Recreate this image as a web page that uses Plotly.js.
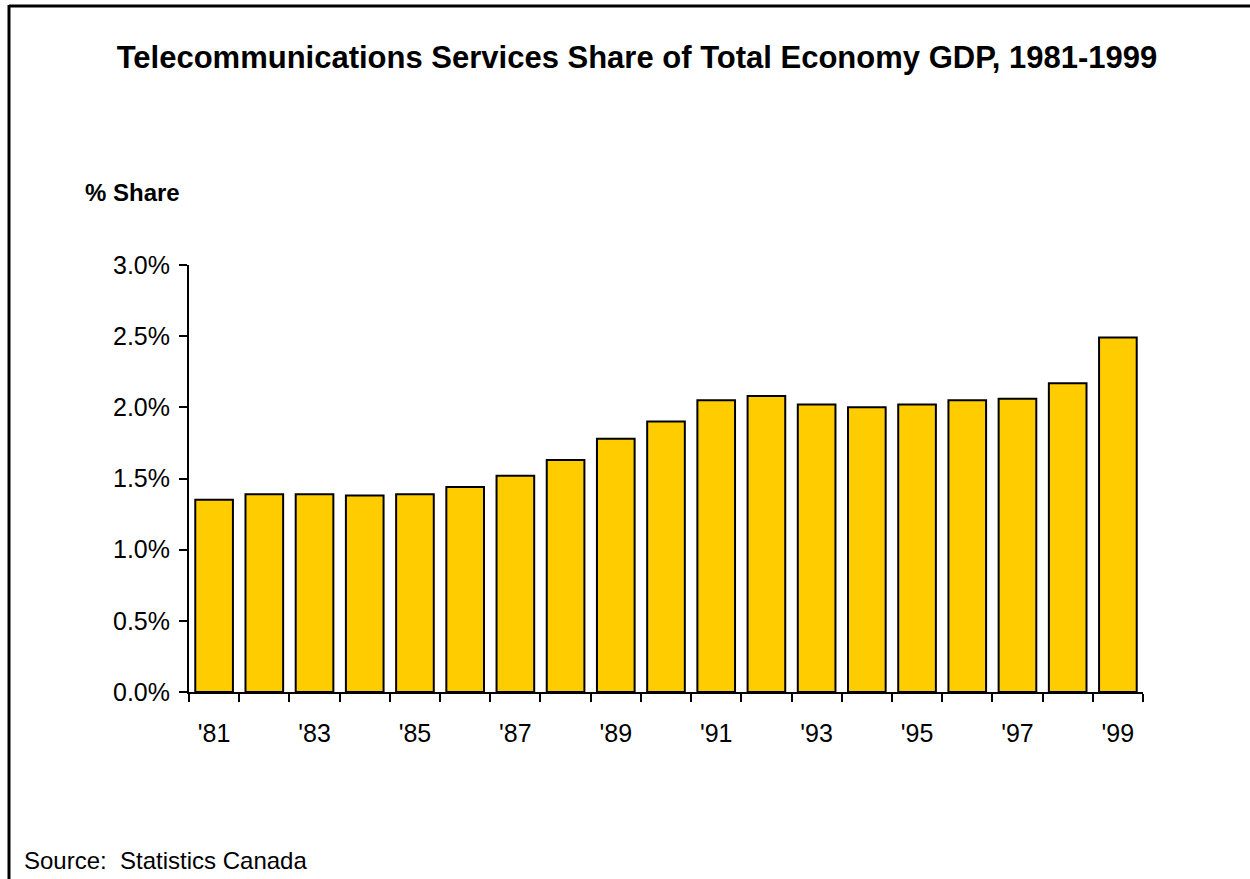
<!DOCTYPE html>
<html>
<head>
<meta charset="utf-8">
<script src="https://cdn.plot.ly/plotly-3.0.1.min.js"></script>
<style>
  html, body { margin: 0; padding: 0; background: #fff; }
  #chart { width: 1250px; height: 879px; }
</style>
</head>
<body>
<div id="chart"></div>
<script>
const years = [1981, 1982, 1983, 1984, 1985, 1986, 1987, 1988, 1989, 1990,
               1991, 1992, 1993, 1994, 1995, 1996, 1997, 1998, 1999];
const yearLabels = ["'81", "'82", "'83", "'84", "'85", "'86", "'87", "'88", "'89", "'90",
                    "'91", "'92", "'93", "'94", "'95", "'96", "'97", "'98", "'99"];
const sharePct = [1.35, 1.39, 1.39, 1.38, 1.39, 1.44, 1.52, 1.63, 1.78, 1.90,
                  2.05, 2.08, 2.02, 2.00, 2.02, 2.05, 2.06, 2.17, 2.49];
const yTicks = [0, 0.5, 1.0, 1.5, 2.0, 2.5, 3.0];

const labelYears = years.filter((y, i) => i % 2 === 0);
const labelText = yearLabels.filter((y, i) => i % 2 === 0);
const boundaries = years.map(y => y - 0.5).concat([years[years.length - 1] + 0.5]);
const xRange = [years[0] - 0.5, years[years.length - 1] + 0.5];

const FONT = "Liberation Sans, Arial, sans-serif";

// plot area in pixels: left 189, right 1143, top 265, bottom 692
const L = 189, R = 1143, T = 265, B = 692;
const px2x = px => (px - L) / (R - L);
const px2y = py => (B - py) / (B - T);

const trace = {
  type: 'bar',
  x: years,
  y: sharePct,
  marker: { color: '#FFCC00', line: { color: '#000000', width: 2 } },
  hoverinfo: 'x+y'
};

const layout = {
  width: 1250, height: 879,
  paper_bgcolor: '#ffffff', plot_bgcolor: '#ffffff',
  margin: { l: L, r: 1250 - R, t: T, b: 879 - B, pad: 0 },
  showlegend: false,
  bargap: 0.25,
  font: { family: FONT, color: '#000' },
  title: {
    text: '<b>Telecommunications Services Share of Total Economy GDP, 1981-1999</b>',
    font: { family: FONT, size: 31, color: '#000' },
    x: 637 / 1250, xanchor: 'center', xref: 'container',
    y: 1 - 57 / 879, yanchor: 'middle', yref: 'container'
  },
  xaxis: {
    range: xRange,
    tickmode: 'array', tickvals: boundaries, ticktext: boundaries.map(() => ''),
    ticks: 'outside', ticklen: 8, tickwidth: 2, tickcolor: '#000',
    showline: true, linecolor: '#000', linewidth: 2,
    showgrid: false, zeroline: false, fixedrange: true
  },
  xaxis2: {
    overlaying: 'x', anchor: 'y', side: 'bottom',
    range: xRange,
    tickmode: 'array', tickvals: labelYears, ticktext: labelText,
    ticks: '', showline: false, showgrid: false, zeroline: false,
    tickfont: { family: FONT, size: 25, color: '#000' },
    ticklabelstandoff: 24
  },
  yaxis: {
    range: [0, 3.0],
    tickmode: 'array', tickvals: yTicks, ticktext: yTicks.map(v => v.toFixed(1) + '%'),
    ticks: 'outside', ticklen: 8, tickwidth: 2, tickcolor: '#000',
    showline: true, linecolor: '#000', linewidth: 2,
    showgrid: false, zeroline: false,
    tickfont: { family: FONT, size: 25, color: '#000' },
    ticklabelstandoff: 4,
    fixedrange: true
  },
  annotations: [
    {
      text: '<b>% Share</b>', xref: 'paper', yref: 'paper',
      x: px2x(83), y: px2y(192), xanchor: 'left', yanchor: 'middle',
      showarrow: false, font: { family: FONT, size: 24, color: '#000' }
    },
    {
      text: 'Source:  Statistics Canada', xref: 'paper', yref: 'paper',
      x: px2x(22), y: px2y(860), xanchor: 'left', yanchor: 'middle',
      showarrow: false, font: { family: FONT, size: 24, color: '#000' }
    }
  ],
  shapes: [
    { type: 'line', xref: 'paper', yref: 'paper',
      x0: px2x(9), x1: px2x(1252), y0: px2y(6), y1: px2y(6),
      line: { color: '#000', width: 3 } },
    { type: 'line', xref: 'paper', yref: 'paper',
      x0: px2x(9), x1: px2x(9), y0: px2y(5), y1: px2y(882),
      line: { color: '#000', width: 3 } }
  ]
};

// invisible trace to activate xaxis2 (label axis)
const labelTrace = {
  type: 'scatter', x: labelYears, y: labelYears.map(() => null),
  xaxis: 'x2', yaxis: 'y', mode: 'markers', hoverinfo: 'skip', showlegend: false
};

Plotly.newPlot('chart', [trace, labelTrace], layout, { displayModeBar: false, staticPlot: true });
</script>
</body>
</html>
